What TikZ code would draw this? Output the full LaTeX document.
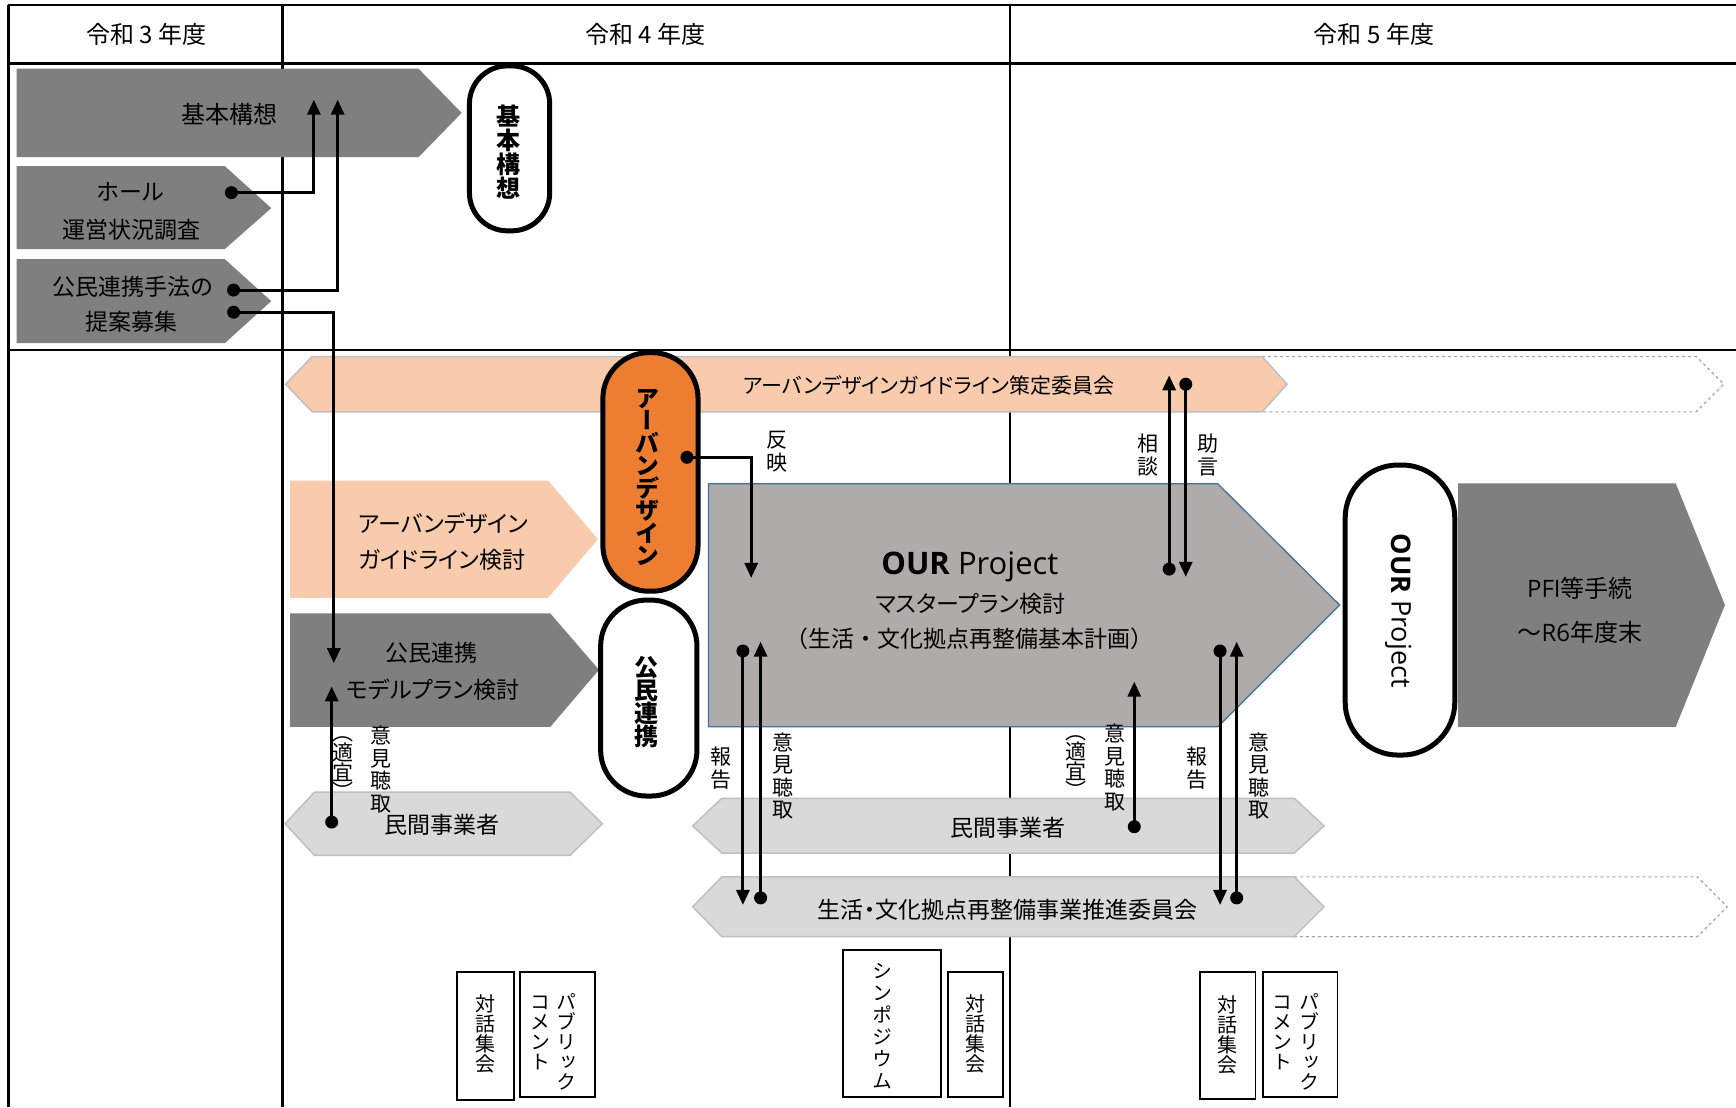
\documentclass[tikz,border=0pt]{standalone}
\usepackage{fontspec}
\setmainfont[RawFeature=+palt]{Noto Sans CJK JP}
\newfontfamily\jpfull{Noto Sans CJK JP}
\newfontfamily\vjp[RawFeature=+vert]{Noto Sans CJK JP}
\newfontfamily\lat{Open Sans}
\usetikzlibrary{arrows.meta}
\definecolor{dgray}{HTML}{7F7F7F}
\definecolor{peach}{HTML}{F8CBAD}
\definecolor{orng}{HTML}{ED7D31}
\definecolor{mgray}{HTML}{AFABAB}
\definecolor{lgray}{HTML}{D9D9D9}
\definecolor{edgegray}{HTML}{BFBFBF}
\definecolor{dashgray}{HTML}{A6A6A6}
\definecolor{blueedge}{HTML}{41719C}
\newcommand\fs[1]{\fontsize{#1}{#1}\selectfont}
\begin{document}
\begin{tikzpicture}[x=1.10714pt,y=-1.10714pt,
  tline/.style={line width=2.4pt},
  conn/.style={line width=3pt,-{Triangle[width=13pt,length=15pt]}},
  dotn/.style={circle,fill=black,inner sep=0pt,minimum size=13pt},
  pillbox/.style={draw=black,line width=5pt},
  lbl/.style={font=\vjp\fontsize{21}{22.5}\selectfont,align=center,inner sep=0pt},
  tekilbl/.style={font=\vjp\fontsize{21}{19}\selectfont,align=center,inner sep=0pt},
  vbold/.style={font=\vjp\bfseries\fontsize{24}{24}\selectfont,align=center,inner sep=0pt},
  btxt/.style={font=\vjp\fontsize{20}{20}\selectfont,align=center,inner sep=0pt},
  txt/.style={font=\fs{23},inner sep=0pt},
  hdr/.style={font=\fs{24},inner sep=0pt},
  smallbox/.style={draw=black,line width=1.8pt,fill=white},
  darkshape/.style={fill=dgray},
  peachshape/.style={fill=peach},
  lightshape/.style={fill=lgray,draw=edgegray,line width=1.5pt},
  dashshape/.style={draw=dashgray,dashed,line width=1.2pt},
]
\useasboundingbox (0,0) rectangle (1568,1000);
\fill[white] (0,0) rectangle (1568,1000);
% ---------------- table
\draw[tline] (7.6,4.5) -- (1568,4.5);
\draw[tline] (7.6,57.5) -- (1568,57.5);
\draw[tline] (7.6,316) -- (1568,316);
\draw[tline] (7.6,4.5) -- (7.6,1000);
\draw[tline] (255,4.5) -- (255,1000);
\draw[tline] (912,4.5) -- (912,1000);
\node[hdr] (h3) at (132,31) {令和 3 年度};
\node[hdr] (h4) at (583,31) {令和 4 年度};
\node[hdr] (h5) at (1241,31) {令和 5 年度};
% ---------------- upper section
\path[darkshape] (15,62) -- (378,62) -- (417,102) -- (378,142) -- (15,142) -- cycle;
\node[font=\fs{24},inner sep=0pt] (kihon) at (207,103) {基本構想};
\path[darkshape] (15,150) -- (203,150) -- (245,188) -- (203,225) -- (15,225) -- cycle;
\node[txt] (hall1) at (118,173) {ホール};
\node[txt] (hall2) at (119,208) {運営状況調査};
\path[darkshape] (15,234) -- (203,234) -- (245,272) -- (203,310) -- (15,310) -- cycle;
\node[txt] (kou1) at (120,259) {公民連携手法の};
\node[txt] (kou2) at (119,290.5) {提案募集};
\draw[pillbox,fill=white,rounded corners=38pt] (424,59.5) rectangle (496.5,208.5);
\node[vbold] (kihonP) at (459,137) {基\\本\\構\\想};
% ---------------- lower section shapes
\draw[dashshape] (1140,322) -- (1532,322) -- (1557,347) -- (1532,372) -- (1140,372);
\path[fill=peach,draw=edgegray,line width=1.5pt] (258,347) -- (282,322) -- (1140,322) -- (1162.5,347) -- (1140,372) -- (282,372) -- cycle;
\node[font=\fs{21},inner sep=0pt] (sakutei) at (839,348) {アーバンデザインガイドライン策定委員会};
\path[peachshape] (262,434) -- (495,434) -- (540,487) -- (495,540) -- (262,540) -- cycle;
\node[txt,anchor=west] (gl1) at (323.5,472.6) {アーバンデザイン};
\node[txt,anchor=west] (gl2) at (323.5,506) {ガイドライン検討};
\path[darkshape] (262,554) -- (497,554) -- (541,605) -- (497,656.6) -- (262,656.6) -- cycle;
\node[txt] (model1) at (390,590) {公民連携};
\node[txt] (model2) at (391,623) {モデルプラン検討};
\draw[pillbox,fill=orng,rounded corners=46pt] (544.5,318.5) rectangle (630.5,534);
\node[vbold,font=\vjp\bfseries\fontsize{24}{22.5}\selectfont] (udP) at (585,431) {ア\\ー\\バ\\ン\\デ\\ザ\\イ\\ン};
\draw[pillbox,fill=white,rounded corners=46pt] (542.5,542) rectangle (629.5,719);
\node[vbold,font=\vjp\bfseries\fontsize{24}{23}\selectfont] (kmP) at (584,634) {公\\民\\連\\携};
\path[lightshape] (257.5,744) -- (284,715.5) -- (515,715.5) -- (544,744) -- (515,772.5) -- (284,772.5) -- cycle;
\node[txt] (min1) at (399,745) {民間事業者};
\path[fill=mgray,draw=blueedge,line width=1.3pt] (640,437) -- (1100,437) -- (1210,546.5) -- (1100,656.5) -- (640,656.5) -- cycle;
\node[font=\lat\fs{31},inner sep=0pt] (our1) at (876,512) {\textbf{OUR} Project};
\node[font=\fs{23},inner sep=0pt] (our2) at (876.5,545) {マスタープラン検討};
\node[font=\jpfull\fs{23},inner sep=0pt] (our3) at (876,577) {（生活・文化拠点再整備基本計画）};
\draw[pillbox,fill=white,rounded corners=53pt] (1215,420) rectangle (1314,682);
\node[rotate=-90,font=\lat\fs{27},inner sep=0pt] (ourP) at (1263,551.5) {\textbf{OUR} Project};
\path[darkshape] (1317,436.5) -- (1513.5,436.5) -- (1558,546.5) -- (1513.5,656.6) -- (1317,656.6) -- cycle;
\node[font=\fs{24},inner sep=0pt] (pfi1) at (1427,531) {{\lat PFI}等手続};
\node[font=\fs{24},inner sep=0pt] (pfi2) at (1427,571) {～{\lat R6}年度末};
\path[lightshape] (625.6,746) -- (652,721) -- (1169,721) -- (1196,746) -- (1169,770.5) -- (652,770.5) -- cycle;
\node[txt] (min2) at (910,748) {民間事業者};
\draw[dashshape] (1169,792) -- (1533,792) -- (1560,819) -- (1533,846) -- (1169,846);
\path[lightshape] (625.6,819) -- (652,792) -- (1169,792) -- (1196,819) -- (1169,846) -- (652,846) -- cycle;
\node[txt] (suishin) at (910,822) {生活・文化拠点再整備事業推進委員会};
% ---------------- bottom boxes
\draw[smallbox] (413,877.6) rectangle (464,993.6);
\node[btxt] (taiwa1) at (438.5,934) {対\\話\\集\\会};
\draw[smallbox] (470,877.6) rectangle (537.5,990.6);
\node[btxt,anchor=north] (pub1a) at (511.7,897) {パ\\ブ\\リ\\ッ\\ク};
\node[btxt,anchor=north] (pub1b) at (488,899) {コ\\メ\\ン\\ト};
\draw[smallbox] (761.6,858) rectangle (849.7,990.6);
\node[btxt,font=\vjp\fontsize{20}{22}\selectfont] (sympo) at (797,926.5) {シ\\ン\\ポ\\ジ\\ウ\\ム};
\draw[smallbox] (856,877.6) rectangle (905.7,990.6);
\node[btxt] (taiwa2) at (880.8,934) {対\\話\\集\\会};
\draw[smallbox] (1083.6,877.6) rectangle (1134,992.7);
\node[btxt] (taiwa3) at (1108.8,935) {対\\話\\集\\会};
\draw[smallbox] (1140.7,877.6) rectangle (1208,990.6);
\node[btxt,anchor=north] (pub3a) at (1182.4,897) {パ\\ブ\\リ\\ッ\\ク};
\node[btxt,anchor=north] (pub3b) at (1158.7,899) {コ\\メ\\ン\\ト};
% ---------------- labels
\node[lbl] (lHanei) at (702,408) {反\\映};
\node[lbl] (lSoudan) at (1037,411) {相\\談};
\node[lbl] (lJogen) at (1091,411) {助\\言};
\node[lbl] (lHoukokuL) at (651,694) {報\\告};
\node[lbl] (lIkenL) at (707,701) {意\\見\\聴\\取};
\node[lbl] (lIkenA) at (344,695) {意\\見\\聴\\取};
\node[tekilbl] (lTekiA) at (310,694) {（\\適\\宜\\）};
\node[lbl] (lIkenB) at (1007,693) {意\\見\\聴\\取};
\node[tekilbl] (lTekiB) at (972,693) {（\\適\\宜\\）};
\node[lbl] (lHoukokuR) at (1081,694) {報\\告};
\node[lbl] (lIkenR) at (1137,701) {意\\見\\聴\\取};
% ---------------- connectors
\coordinate (d1) at (209,174);   \coordinate (a1) at (283.5,90);
\coordinate (d2) at (211,262);   \coordinate (a2) at (305,90);
\coordinate (d3) at (211,282);   \coordinate (a3) at (301.5,599);
\coordinate (d4) at (620.5,413); \coordinate (a4) at (678.5,522);
\coordinate (d5) at (1056,514);  \coordinate (a5) at (1056,339);
\coordinate (d6) at (1071,347);  \coordinate (a6) at (1071,521);
\coordinate (d7) at (299.6,742.5); \coordinate (a7) at (299.6,620);
\coordinate (d8) at (671,588);   \coordinate (a8) at (671,817.4);
\coordinate (d9) at (687,811);   \coordinate (a9) at (687,579.6);
\coordinate (d10) at (1024.5,746.7); \coordinate (a10) at (1024.5,615.7);
\coordinate (d11) at (1102,588); \coordinate (a11) at (1102,817.4);
\coordinate (d12) at (1117,811); \coordinate (a12) at (1117,579.6);
\draw[conn] (d1) -| (a1);
\draw[conn] (d2) -| (a2);
\draw[conn] (d3) -| (a3);
\draw[conn] (d4) -| (a4);
\foreach \i in {5,...,12} {\draw[conn] (d\i) -- (a\i);}
\foreach \i in {1,...,12} {\node[dotn] (dot\i) at (d\i) {};}
\end{tikzpicture}
\end{document}
